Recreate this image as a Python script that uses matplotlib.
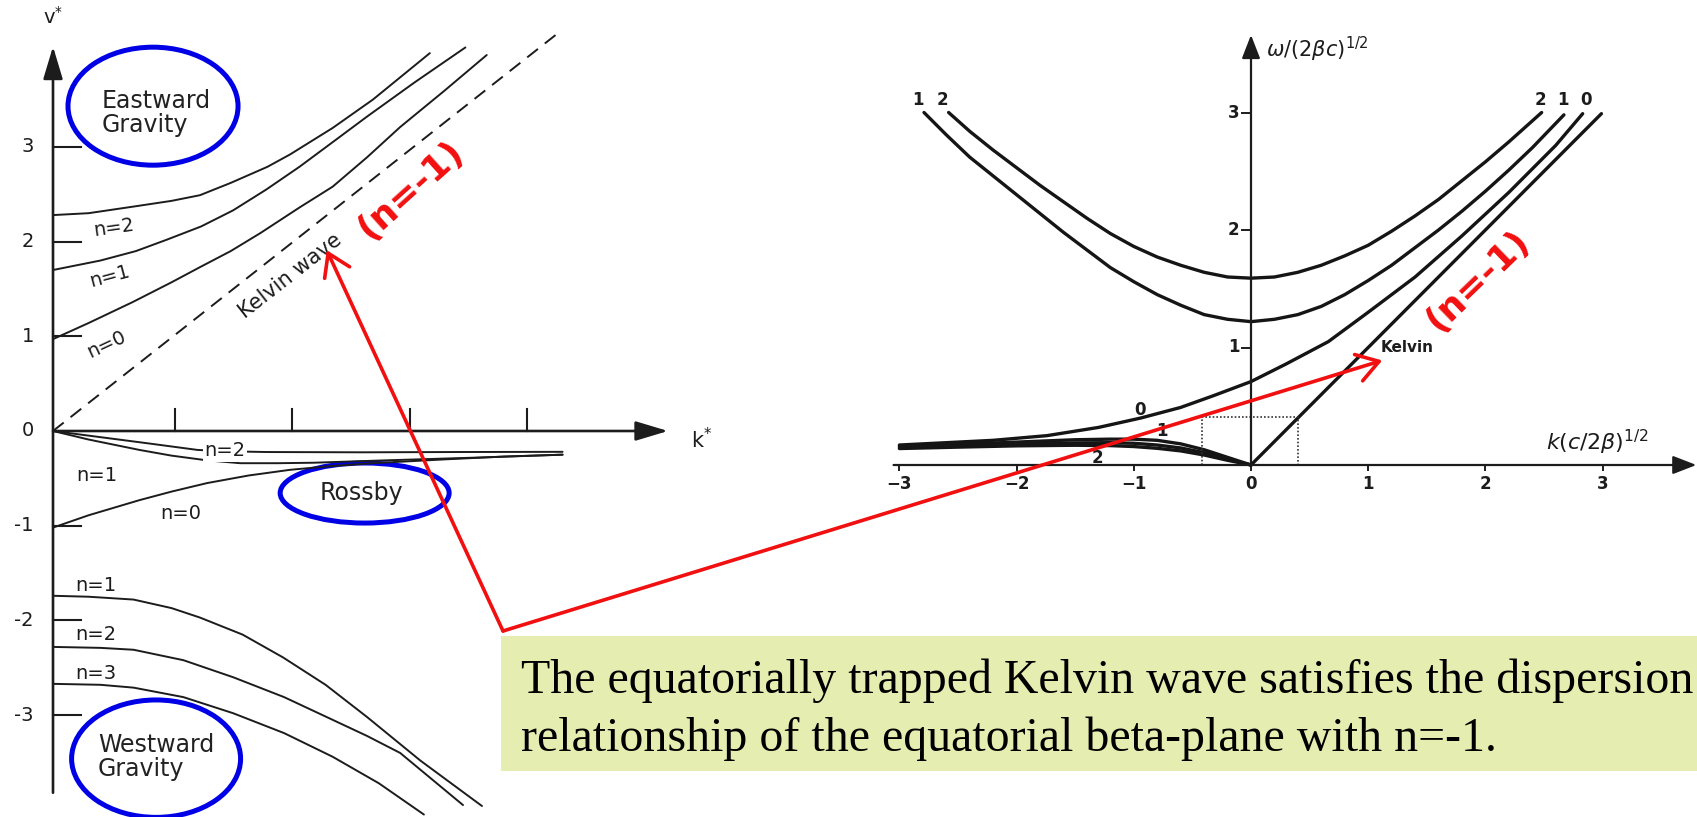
import matplotlib
matplotlib.use("Agg")
import matplotlib.pyplot as plt
from matplotlib.patches import Ellipse, Rectangle

# ---------------- left diagram: nondimensional wavenumber k*, frequency v* ----------------
# eastward inertia-gravity branches
east_n0_k = [0.0, 0.3, 0.67, 1.0, 1.24, 1.5, 1.75, 2.08, 2.36, 2.65, 2.93, 3.3, 3.66]
east_n0_v = [0.97, 1.14, 1.36, 1.57, 1.73, 1.90, 2.09, 2.36, 2.58, 2.89, 3.21, 3.59, 3.97]
east_n1_k = [0.0, 0.4, 0.7, 0.96, 1.25, 1.52, 1.8, 2.08, 2.36, 2.65, 3.05, 3.48]
east_n1_v = [1.70, 1.80, 1.90, 2.02, 2.16, 2.33, 2.55, 2.79, 3.05, 3.32, 3.68, 4.05]
east_n2_k = [0.0, 0.3, 0.68, 1.0, 1.24, 1.5, 1.81, 2.0, 2.36, 2.7, 3.18]
east_n2_v = [2.28, 2.30, 2.37, 2.43, 2.49, 2.62, 2.79, 2.92, 3.20, 3.50, 3.99]
# Kelvin wave (dashed)
kelvin_k = [0.0, 4.25]
kelvin_v = [0.0, 4.19]
# Rossby / mixed branches
ross_n0_k = [0.0, 0.3, 0.73, 1.0, 1.3, 1.65, 2.0, 2.35, 2.7, 3.3, 3.8, 4.3]
ross_n0_v = [-1.02, -0.89, -0.73, -0.64, -0.55, -0.47, -0.41, -0.37, -0.34, -0.30, -0.27, -0.25]
ross_n1_k = [0.0, 0.3, 0.73, 1.0, 1.3, 1.58, 1.9, 2.2, 2.8, 3.6, 4.3]
ross_n1_v = [0.0, -0.09, -0.20, -0.26, -0.31, -0.34, -0.34, -0.335, -0.31, -0.28, -0.25]
ross_n2_k = [0.0, 0.4, 0.8, 1.22, 1.5, 1.8, 2.6, 3.4, 4.3]
ross_n2_v = [0.0, -0.065, -0.13, -0.20, -0.215, -0.222, -0.225, -0.222, -0.22]
# westward inertia-gravity branches
west_n1_k = [0.0, 0.3, 0.68, 1.0, 1.24, 1.6, 1.94, 2.3, 2.65, 3.1, 3.62]
west_n1_v = [-1.74, -1.75, -1.78, -1.87, -1.97, -2.15, -2.39, -2.68, -3.02, -3.48, -3.96]
west_n2_k = [0.0, 0.4, 0.68, 1.1, 1.52, 1.95, 2.36, 2.65, 2.93, 3.46]
west_n2_v = [-2.28, -2.29, -2.31, -2.42, -2.60, -2.81, -3.05, -3.22, -3.40, -3.95]
west_n3_k = [0.0, 0.4, 0.68, 1.1, 1.52, 1.95, 2.36, 2.75, 3.13]
west_n3_v = [-2.67, -2.68, -2.71, -2.81, -2.98, -3.19, -3.44, -3.72, -4.05]
left_yticks = [3, 2, 1, 0, -1, -2, -3]
left_xticks = [1.03, 2.02, 3.01, 4.0]

# ---------------- right diagram: k(c/2beta)^1/2, omega/(2 beta c)^1/2 ----------------
r_kelvin_k = [0.0, 2.99]
r_kelvin_w = [0.0, 2.99]
r_mrg_k = [-3.0, -2.6, -2.2, -1.74, -1.3, -0.94, -0.6, -0.32, 0.0, 0.3, 0.66, 1.0, 1.4, 1.8, 2.2, 2.6, 2.83]
r_mrg_w = [0.17, 0.19, 0.21, 0.25, 0.32, 0.40, 0.49, 0.59, 0.71, 0.86, 1.05, 1.30, 1.60, 1.95, 2.32, 2.72, 2.99]
r_g1_k = [-2.79, -2.6, -2.4, -2.2, -2.0, -1.8, -1.6, -1.4, -1.2, -1.0, -0.8, -0.6, -0.4, -0.2,
          0.0, 0.2, 0.4, 0.6, 0.8, 1.0, 1.2, 1.4, 1.6, 1.8, 2.0, 2.2, 2.4, 2.67]
r_g1_w = [3.0, 2.81, 2.62, 2.46, 2.30, 2.14, 1.98, 1.83, 1.68, 1.56, 1.45, 1.36, 1.28, 1.24,
          1.22, 1.24, 1.28, 1.35, 1.45, 1.57, 1.70, 1.85, 2.00, 2.16, 2.33, 2.51, 2.70, 2.98]
r_g2_k = [-2.58, -2.4, -2.2, -2.0, -1.8, -1.6, -1.4, -1.2, -1.0, -0.8, -0.6, -0.4, -0.2,
          0.0, 0.2, 0.4, 0.6, 0.8, 1.0, 1.2, 1.4, 1.6, 1.8, 2.0, 2.2, 2.48]
r_g2_w = [3.0, 2.84, 2.68, 2.53, 2.38, 2.24, 2.10, 1.97, 1.86, 1.77, 1.70, 1.64, 1.60,
          1.59, 1.60, 1.64, 1.70, 1.78, 1.87, 1.99, 2.12, 2.26, 2.42, 2.58, 2.75, 3.0]
r_ross_k = [-3.0, -2.5, -2.0, -1.5, -1.2, -1.0, -0.8, -0.6, -0.4, -0.2, 0.0]
r_ross1_w = [0.16, 0.175, 0.195, 0.215, 0.22, 0.22, 0.21, 0.18, 0.13, 0.065, 0.0]
r_ross2_w = [0.15, 0.163, 0.178, 0.188, 0.19, 0.185, 0.17, 0.145, 0.105, 0.05, 0.0]
r_ross3_w = [0.14, 0.152, 0.163, 0.168, 0.165, 0.157, 0.142, 0.12, 0.085, 0.04, 0.0]
r_box_k = [-0.42, -0.42, 0.40, 0.40]
r_box_w = [0.0, 0.41, 0.41, 0.0]
right_xticks = [-3, -2, -1, 0, 1, 2, 3]
right_yticks = [1, 2, 3]

caption = ["The equatorially trapped Kelvin wave satisfies the dispersion",
           "relationship of the equatorial beta-plane with n=-1."]

W, H = 1697, 817
fig = plt.figure(figsize=(W / 100, H / 100), dpi=100)
fig.patch.set_facecolor("white")

RED = "#F20F0F"
BLUE = "#0000E6"
INK = "#1c1c1c"
SANS = ["DejaVu Sans"]

# ---------- left panel ----------
LX0, LY0, LSX, LSY, LW = 53, 431, 118.5, 94.7, 700
ax1 = fig.add_axes([0, 0, LW / W, 1])
ax1.set_xlim(-LX0 / LSX, (LW - LX0) / LSX)
ax1.set_ylim(-(H - LY0) / LSY, LY0 / LSY)
ax1.axis("off")

axis_arrow = dict(arrowstyle="-|>,head_length=1.0,head_width=0.3", lw=1.9, color=INK,
                  mutation_scale=20, shrinkA=0, shrinkB=0)
ax1.annotate("", xy=(0, 4.06), xytext=(0, -3.82), arrowprops=axis_arrow)
ax1.annotate("", xy=(5.19, 0), xytext=(0, 0), arrowprops=axis_arrow)
for v in left_yticks:
    if v != 0:
        ax1.plot([0, 0.24], [v, v], color=INK, lw=1.5)
    ax1.text(-0.21 if v >= 0 else -0.25, v, str(v), ha="center", va="center",
             fontsize=14, family=SANS, color=INK)
for k in left_xticks:
    ax1.plot([k, k], [0, 0.23], color=INK, lw=1.5)
ax1.text(0.0, 4.37, "v$^{*}$", ha="center", va="center", fontsize=14, color=INK)
ax1.text(5.38, -0.09, "k$^{*}$", ha="left", va="center", fontsize=15, color=INK)

curve = dict(color=INK, lw=1.4, solid_capstyle="round", solid_joinstyle="round")
for ks, vs in [(east_n0_k, east_n0_v), (east_n1_k, east_n1_v), (east_n2_k, east_n2_v),
               (ross_n0_k, ross_n0_v), (ross_n1_k, ross_n1_v), (ross_n2_k, ross_n2_v),
               (west_n1_k, west_n1_v), (west_n2_k, west_n2_v), (west_n3_k, west_n3_v)]:
    ax1.plot(ks, vs, **curve)
ax1.plot(kelvin_k, kelvin_v, color=INK, lw=1.4, linestyle=(0, (7, 4.5)))

lab = dict(fontsize=14, family=SANS, color=INK, ha="center", va="center")
ax1.text(0.51, 2.15, "n=2", rotation=8, **lab)
ax1.text(0.48, 1.63, "n=1", rotation=15, **lab)
ax1.text(0.45, 0.91, "n=0", rotation=25, **lab)
ax1.text(1.45, -0.21, "n=2", bbox=dict(facecolor="white", edgecolor="none", pad=1.0), **lab)
ax1.text(0.37, -0.47, "n=1", **lab)
ax1.text(1.08, -0.87, "n=0", **lab)
ax1.text(0.36, -1.63, "n=1", **lab)
ax1.text(0.36, -2.15, "n=2", **lab)
ax1.text(0.36, -2.56, "n=3", **lab)
ax1.text(2.0, 1.64, "Kelvin wave", rotation=38, fontsize=15, family=SANS, color=INK,
         ha="center", va="center", rotation_mode="anchor")

ax1.add_patch(Ellipse((0.844, 3.43), 1.435, 1.246, fill=False, edgecolor=BLUE, lw=3.6))
ax1.add_patch(Ellipse((0.87, -3.46), 1.426, 1.24, fill=False, edgecolor=BLUE, lw=3.6))
ax1.add_patch(Ellipse((2.63, -0.655), 1.426, 0.634, fill=False, edgecolor=BLUE, lw=3.6))
ax1.text(0.41, 3.36, "Eastward\nGravity", ha="left", va="center", fontsize=17,
         family=SANS, color="#222", linespacing=1.0)
ax1.text(0.38, -3.44, "Westward\nGravity", ha="left", va="center", fontsize=17,
         family=SANS, color="#222", linespacing=1.0)
ax1.text(2.6, -0.655, "Rossby", ha="center", va="center", fontsize=17,
         family=SANS, color="#222")
ax1.text(3.02, 2.545, "(n=-1)", rotation=42, ha="center", va="center",
         rotation_mode="anchor", fontsize=26, fontweight="bold", family=SANS, color=RED)

# ---------- right panel ----------
RX0, RY0, RSX, RSY = 1251, 465, 117.2, 117.5
RL, RT, RB = 850, 0, 520
ax2 = fig.add_axes([RL / W, (H - RB) / H, (W - RL) / W, (RB - RT) / H])
ax2.set_xlim((RL - RX0) / RSX, (W - RX0) / RSX)
ax2.set_ylim((RY0 - RB) / RSY, (RY0 - RT) / RSY)
ax2.axis("off")

r_arrow = dict(arrowstyle="-|>,head_length=0.9,head_width=0.35", lw=1.6, color=INK,
               mutation_scale=16, shrinkA=0, shrinkB=0)
ax2.annotate("", xy=(0, 3.66), xytext=(0, 0), arrowprops=r_arrow)
ax2.annotate("", xy=(3.80, 0), xytext=(-3.05, 0), arrowprops=r_arrow)
tick_font = dict(fontsize=12, family=SANS, fontweight="bold", color=INK)
for k in right_xticks:
    ax2.plot([k, k], [0, -0.045], color=INK, lw=1.4)
    ax2.text(k, -0.165, str(k) if k >= 0 else "\u2212" + str(-k), ha="center",
             va="center", **tick_font)
for w in right_yticks:
    ax2.plot([-0.08, 0], [w, w], color=INK, lw=1.4)
    ax2.text(-0.10, w, str(w), ha="right", va="center", **tick_font)
ax2.text(0.13, 3.54, r"$\omega/(2\beta c)^{1/2}$", ha="left", va="center",
         fontsize=15, color=INK)
ax2.text(2.52, 0.19, r"$k(c/2\beta)^{1/2}$", ha="left", va="center",
         fontsize=16, color=INK)

thick = dict(color="#151515", lw=2.4, solid_capstyle="round", solid_joinstyle="round")
for ks, ws in [(r_kelvin_k, r_kelvin_w), (r_mrg_k, r_mrg_w), (r_g1_k, r_g1_w),
               (r_g2_k, r_g2_w), (r_ross_k, r_ross1_w), (r_ross_k, r_ross2_w),
               (r_ross_k, r_ross3_w)]:
    ax2.plot(ks, ws, **thick)
ax2.plot(r_box_k, r_box_w, color="#333", lw=1.2, linestyle=(0, (1, 1.2)))

small = dict(fontsize=12, family=SANS, fontweight="bold", color=INK, ha="center", va="center")
for k, txt in [(-2.84, "1"), (-2.63, "2"), (2.47, "2"), (2.66, "1"), (2.86, "0")]:
    ax2.text(k, 3.11, txt, **small)
ax2.text(-0.95, 0.47, "0", **small)
ax2.text(-0.76, 0.29, "1", **small)
ax2.text(-1.31, 0.06, "2", **small)
ax2.text(1.33, 1.0, "Kelvin", fontsize=11, family=SANS, fontweight="bold", color=INK,
         ha="center", va="center")
ax2.text(1.94, 1.57, "(n=-1)", rotation=44, ha="center", va="center",
         rotation_mode="anchor", fontsize=26, fontweight="bold", family=SANS, color=RED)

# ---------- caption box and pointers ----------
fig.add_artist(Rectangle((501 / W, 1 - 771 / H), (W - 501) / W, 135 / H,
                         transform=fig.transFigure, facecolor="#E5EDB0",
                         edgecolor="none", zorder=2))
fig.text(521 / W, 1 - 693 / H, caption[0], fontsize=34.5, family=["Liberation Serif"],
         color="black", va="baseline", ha="left", zorder=3)
fig.text(521 / W, 1 - 751 / H, caption[1], fontsize=34.5, family=["Liberation Serif"],
         color="black", va="baseline", ha="left", zorder=3)

corner = (503 / W, 1 - 631 / H)
pointer = dict(arrowstyle="->,head_length=0.7,head_width=0.45", color=RED, lw=2.6,
               mutation_scale=22, shrinkA=0, shrinkB=0)
ax1.annotate("", xy=(2.31, 1.91), xycoords="data", xytext=corner,
             textcoords="figure fraction", arrowprops=pointer, zorder=6)
ax2.annotate("", xy=(1.12, 0.89), xycoords="data", xytext=corner,
             textcoords="figure fraction", arrowprops=pointer, zorder=6)

fig.savefig("out.png", dpi=100, facecolor="white")
